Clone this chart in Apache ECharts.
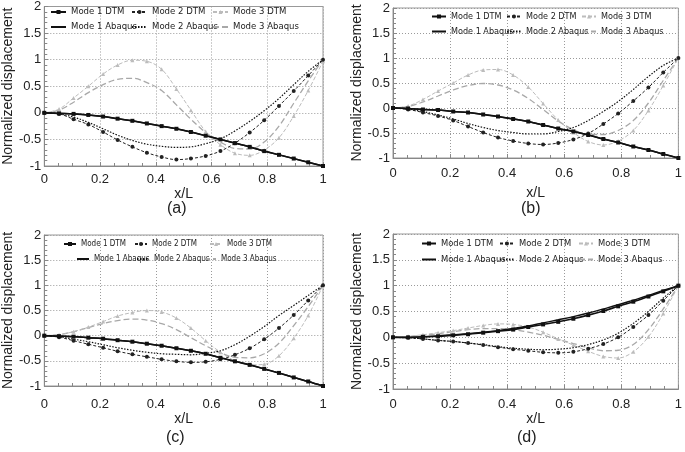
<!DOCTYPE html>
<html><head><meta charset="utf-8">
<script src="https://cdn.jsdelivr.net/npm/echarts@6/dist/echarts.min.js"></script>
<style>html,body{margin:0;padding:0;background:#fff}#c{width:685px;height:452px}</style>
</head><body><div id="c"></div>
<script>
// x positions of the DTM sample points (x/L)
const xPos = [0, 0.053, 0.105, 0.158, 0.211, 0.263, 0.316, 0.368, 0.421, 0.474, 0.526, 0.579, 0.632, 0.684, 0.737, 0.789, 0.842, 0.895, 0.947, 1];
const xTicks = [0, 0.2, 0.4, 0.6, 0.8, 1];
const yTicks = [-1, -0.5, 0, 0.5, 1, 1.5, 2];
const seriesNames = ['Mode 1 DTM', 'Mode 2 DTM', 'Mode 3 DTM', 'Mode 1 Abaqus', 'Mode 2 Abaqus', 'Mode 3 Abaqus'];
const panelLabels = ['(a)', '(b)', '(c)', '(d)'];

// (a)
const aMode1DTM    = [0, -0.01, -0.02, -0.04, -0.07, -0.11, -0.15, -0.20, -0.25, -0.30, -0.36, -0.43, -0.50, -0.57, -0.64, -0.72, -0.79, -0.86, -0.93, -1.0];
const aMode2DTM    = [0, -0.02, -0.12, -0.22, -0.36, -0.51, -0.64, -0.75, -0.83, -0.88, -0.86, -0.81, -0.72, -0.57, -0.37, -0.14, 0.13, 0.41, 0.70, 1.0];
const aMode3DTM    = [0, 0.07, 0.28, 0.50, 0.73, 0.90, 0.99, 0.97, 0.82, 0.45, 0.05, -0.35, -0.60, -0.76, -0.80, -0.70, -0.47, -0.06, 0.42, 0.97];
const aMode1Abaqus = [0, -0.01, -0.02, -0.04, -0.07, -0.11, -0.15, -0.20, -0.25, -0.30, -0.36, -0.43, -0.50, -0.57, -0.64, -0.72, -0.79, -0.86, -0.93, -1.0];
const aMode2Abaqus = [0, -0.02, -0.08, -0.18, -0.30, -0.42, -0.52, -0.59, -0.63, -0.65, -0.64, -0.58, -0.49, -0.34, -0.16, 0.04, 0.27, 0.53, 0.78, 1.0];
const aMode3Abaqus = [0, 0.05, 0.20, 0.38, 0.53, 0.63, 0.65, 0.57, 0.42, 0.15, -0.12, -0.37, -0.55, -0.67, -0.68, -0.55, -0.25, 0.18, 0.60, 1.0];
// (b)
const bMode1DTM    = [0, -0.01, -0.03, -0.04, -0.07, -0.09, -0.13, -0.17, -0.22, -0.27, -0.34, -0.41, -0.47, -0.54, -0.62, -0.69, -0.77, -0.84, -0.92, -1.0];
const bMode2DTM    = [0, -0.03, -0.09, -0.16, -0.25, -0.37, -0.49, -0.59, -0.66, -0.71, -0.73, -0.70, -0.63, -0.51, -0.32, -0.11, 0.14, 0.41, 0.71, 1.0];
const bMode3DTM    = [0, 0.04, 0.17, 0.34, 0.50, 0.66, 0.76, 0.77, 0.66, 0.42, 0.09, -0.24, -0.49, -0.67, -0.74, -0.66, -0.45, -0.05, 0.45, 1.0];
const bMode1Abaqus = [0, -0.01, -0.03, -0.04, -0.07, -0.09, -0.13, -0.17, -0.22, -0.27, -0.34, -0.41, -0.47, -0.54, -0.62, -0.69, -0.77, -0.84, -0.92, -1.0];
const bMode2Abaqus = [0, -0.02, -0.07, -0.14, -0.22, -0.31, -0.39, -0.45, -0.49, -0.52, -0.52, -0.47, -0.39, -0.25, -0.07, 0.13, 0.37, 0.63, 0.85, 1.0];
const bMode3Abaqus = [0, 0.03, 0.12, 0.24, 0.36, 0.45, 0.49, 0.46, 0.36, 0.19, -0.03, -0.26, -0.43, -0.53, -0.53, -0.45, -0.25, 0.10, 0.55, 1.0];
// (c)
const cMode1DTM    = [0, -0.01, -0.02, -0.04, -0.06, -0.09, -0.12, -0.16, -0.20, -0.25, -0.30, -0.36, -0.44, -0.51, -0.58, -0.66, -0.74, -0.83, -0.91, -1.0];
const cMode2DTM    = [0, -0.03, -0.10, -0.17, -0.24, -0.31, -0.37, -0.42, -0.47, -0.51, -0.53, -0.52, -0.47, -0.38, -0.25, -0.07, 0.15, 0.41, 0.70, 1.0];
const cMode3DTM    = [0, 0.02, 0.08, 0.17, 0.28, 0.39, 0.46, 0.50, 0.47, 0.35, 0.15, -0.10, -0.33, -0.50, -0.58, -0.57, -0.40, -0.05, 0.40, 1.0];
const cMode1Abaqus = [0, -0.01, -0.02, -0.04, -0.06, -0.09, -0.12, -0.16, -0.20, -0.25, -0.30, -0.36, -0.44, -0.51, -0.58, -0.66, -0.74, -0.83, -0.91, -1.0];
const cMode2Abaqus = [0, -0.02, -0.07, -0.12, -0.18, -0.24, -0.29, -0.33, -0.36, -0.37, -0.38, -0.35, -0.30, -0.18, -0.01, 0.18, 0.40, 0.60, 0.80, 1.0];
const cMode3Abaqus = [0, 0.02, 0.08, 0.16, 0.24, 0.30, 0.33, 0.31, 0.24, 0.12, -0.04, -0.20, -0.34, -0.43, -0.44, -0.36, -0.15, 0.20, 0.58, 1.0];
// (d)
const dMode1DTM    = [0, 0.0, 0.01, 0.02, 0.04, 0.06, 0.09, 0.12, 0.15, 0.20, 0.25, 0.30, 0.36, 0.43, 0.51, 0.60, 0.69, 0.79, 0.89, 1.0];
const dMode2DTM    = [0, -0.01, -0.03, -0.06, -0.08, -0.11, -0.15, -0.19, -0.23, -0.26, -0.29, -0.30, -0.28, -0.22, -0.13, 0.0, 0.20, 0.43, 0.71, 1.0];
const dMode3DTM    = [0, 0.02, 0.05, 0.09, 0.13, 0.18, 0.23, 0.26, 0.25, 0.20, 0.10, -0.03, -0.15, -0.27, -0.37, -0.40, -0.28, 0.01, 0.46, 1.0];
const dMode1Abaqus = [0, 0.0, 0.01, 0.03, 0.05, 0.07, 0.10, 0.13, 0.17, 0.22, 0.28, 0.34, 0.40, 0.47, 0.55, 0.63, 0.72, 0.81, 0.91, 1.0];
const dMode2Abaqus = [0, -0.01, -0.03, -0.06, -0.08, -0.11, -0.14, -0.18, -0.21, -0.23, -0.24, -0.23, -0.20, -0.14, -0.05, 0.08, 0.27, 0.50, 0.76, 1.0];
const dMode3Abaqus = [0, 0.01, 0.04, 0.07, 0.11, 0.15, 0.17, 0.17, 0.15, 0.10, 0.04, -0.04, -0.12, -0.20, -0.26, -0.25, -0.14, 0.15, 0.55, 1.0];

const panelData = [
  [aMode1DTM, aMode2DTM, aMode3DTM, aMode1Abaqus, aMode2Abaqus, aMode3Abaqus],
  [bMode1DTM, bMode2DTM, bMode3DTM, bMode1Abaqus, bMode2Abaqus, bMode3Abaqus],
  [cMode1DTM, cMode2DTM, cMode3DTM, cMode1Abaqus, cMode2Abaqus, cMode3Abaqus],
  [dMode1DTM, dMode2DTM, dMode3DTM, dMode1Abaqus, dMode2Abaqus, dMode3Abaqus]
];

// ---- layout / styles ----
const FONT = 'Liberation Sans';
const LEGEND_FONT = '"Liberation Sans Narrow", "DejaVu Sans Condensed", "Liberation Sans", sans-serif';
const grids = [
  {left: 35, top: 4, width: 288, height: 162},
  {left: 393, top: 8, width: 289, height: 150},
  {left: 36, top: 235, width: 287, height: 151},
  {left: 393, top: 234, width: 288, height: 155}
];
const yNameGap = [17, 17, 17, 17];
const xNameGap = [17, 28, 24, 21];
const xLabelMargin = [7, 9, 12, 9];
const labelPos = [[178, 211], [532, 211], [177, 440], [528, 440]];
// legend: text start x and row y for the six items of each panel
const legendText = [
  [[70,13],[151,13],[232,13],[70,28],[151,28],[232,28]],
  [[450,18],[525,18],[600,18],[450,33],[525,33],[600,33]],
  [[80,246],[151,246],[226,246],[93,261],[153,261],[220,261]],
  [[440,245],[518,245],[597,245],[440,261],[518,261],[597,261]]
];
const legendIconW = [15, 14, 12, 14];
const legendFont = [9.5, 9, 8, 9.3];
const styles = {
  'Mode 1 DTM':    {line: {color: '#111', width: 1.6, type: 'solid'}, symbol: 'rect', size: 4, color: '#111', z: 6},
  'Mode 2 DTM':    {line: {color: '#222', width: 1, type: [3, 2]}, symbol: 'circle', size: 4, color: '#222', z: 5},
  'Mode 3 DTM':    {line: {color: '#bcbcbc', width: 1, type: [4, 2]}, symbol: 'triangle', size: 4, color: '#bcbcbc', z: 3},
  'Mode 1 Abaqus': {line: {color: '#111', width: 1.4, type: 'solid'}, symbol: 'none', size: 0, color: '#111', z: 6},
  'Mode 2 Abaqus': {line: {color: '#111', width: 1.2, type: [1.5, 1.5]}, symbol: 'none', size: 0, color: '#111', z: 5},
  'Mode 3 Abaqus': {line: {color: '#a8a8a8', width: 1.3, type: [6, 3]}, symbol: 'none', size: 0, color: '#a8a8a8', z: 2}
};

const option = {
  animation: false,
  backgroundColor: '#fff',
  textStyle: {fontFamily: FONT},
  grid: [], xAxis: [], yAxis: [], series: [], legend: [], graphic: []
};

grids.forEach((g, i) => {
  option.grid.push(Object.assign({show: true, borderColor: '#999', borderWidth: 1, backgroundColor: 'transparent', containLabel: false}, g));
  option.xAxis.push({
    gridIndex: i, type: 'value', min: xTicks[0], max: xTicks[xTicks.length - 1], interval: 0.2,
    axisLine: {show: true, onZero: false, lineStyle: {color: '#888', width: 1}},
    axisTick: {show: true, inside: true, length: 4, lineStyle: {color: '#888'}},
    minorTick: {show: true, splitNumber: 4, length: 3, lineStyle: {color: '#888'}},
    splitLine: {show: true, lineStyle: {color: '#9a9a9a', type: [1, 2], width: 1}},
    axisLabel: {fontSize: 13, color: '#222', fontFamily: FONT, margin: xLabelMargin[i],
      formatter: v => String(+v.toFixed(1))},
    name: 'x/L', nameLocation: 'middle', nameGap: xNameGap[i],
    nameTextStyle: {fontSize: 14, color: '#222', fontFamily: FONT}
  });
  option.yAxis.push({
    gridIndex: i, type: 'value', min: yTicks[0], max: yTicks[yTicks.length - 1], interval: 0.5,
    axisLine: {show: true, onZero: false, lineStyle: {color: '#888', width: 1}},
    axisTick: {show: true, inside: true, length: 4, lineStyle: {color: '#888'}},
    minorTick: {show: true, splitNumber: 5, length: 3, lineStyle: {color: '#888'}},
    splitLine: {show: true, lineStyle: {color: '#9a9a9a', type: [1, 2], width: 1}},
    axisLabel: {fontSize: 13, color: '#222', fontFamily: FONT, margin: 3,
      formatter: v => String(+v.toFixed(1))},
    name: 'Normalized displacement', nameLocation: 'middle', nameGap: yNameGap[i],
    nameTextStyle: {fontSize: 14, color: '#222', fontFamily: FONT}
  });
  seriesNames.forEach((name, k) => {
    const st = styles[name];
    option.series.push({
      type: 'line', name: name, xAxisIndex: i, yAxisIndex: i,
      data: xPos.map((x, j) => [x, panelData[i][k][j]]),
      smooth: 0.35,
      symbol: st.symbol, symbolSize: st.size, showSymbol: st.symbol !== 'none',
      lineStyle: st.line, itemStyle: {color: st.color}, z: st.z,
      emphasis: {disabled: true}
    });
    const p = legendText[i][k];
    const iw = legendIconW[i];
    const noMarker = st.symbol === 'none';
    option.legend.push({
      data: [name], left: p[0] - iw - 5, top: p[1] - 6, padding: 0, itemGap: 0,
      itemWidth: iw, itemHeight: 5, selectedMode: false,
      itemStyle: noMarker ? {color: 'rgba(0,0,0,0)', borderColor: 'rgba(0,0,0,0)', borderWidth: 0} : {},
      textStyle: {fontSize: legendFont[i], color: '#222', fontFamily: LEGEND_FONT}
    });
  });
  option.graphic.push({
    type: 'text', left: labelPos[i][0] - 11, top: labelPos[i][1] - 10,
    style: {text: panelLabels[i], font: '16px ' + FONT, fill: '#222'}
  });
});

const chart = echarts.init(document.getElementById('c'), null, {renderer: 'canvas'});
chart.setOption(option);
</script>
</body></html>
